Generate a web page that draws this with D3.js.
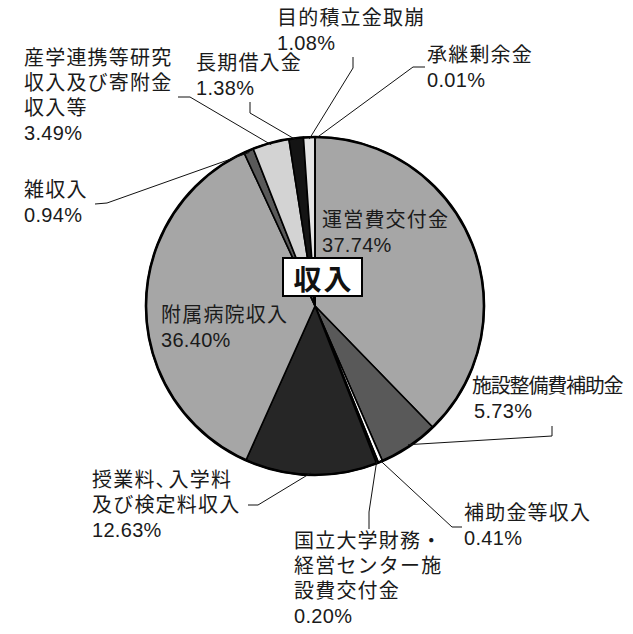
<!DOCTYPE html>
<html>
<head>
<meta charset="utf-8">
<script src="https://cdn.jsdelivr.net/npm/d3@7"></script>
<style>
  html, body { margin: 0; padding: 0; background: #fff; }
  svg { display: block; }
  .lbl { font-family: "Liberation Sans", "Noto Sans CJK JP", sans-serif; font-size: 20px; fill: #1a1a1a; }
</style>
</head>
<body>
<svg id="chart" width="633" height="634"></svg>
<script>
// Revenue breakdown (%), clockwise from 12 o'clock
const categories = [
  "運営費交付金",
  "施設整備費補助金",
  "補助金等収入",
  "国立大学財務・経営センター施設費交付金",
  "授業料、入学料及び検定料収入",
  "附属病院収入",
  "雑収入",
  "産学連携等研究収入及び寄附金収入等",
  "長期借入金",
  "目的積立金取崩",
  "承継剰余金"
];
const shares = [37.74, 5.73, 0.41, 0.20, 12.63, 36.40, 0.94, 3.49, 1.38, 1.08, 0.01];
const labelLines = [
  ["運営費交付金"],
  ["施設整備費補助金"],
  ["補助金等収入"],
  ["国立大学財務・", "経営センター施", "設費交付金"],
  ["授業料、入学料", "及び検定料収入"],
  ["附属病院収入"],
  ["雑収入"],
  ["産学連携等研究", "収入及び寄附金", "収入等"],
  ["長期借入金"],
  ["目的積立金取崩"],
  ["承継剰余金"]
];
const centerTitle = "収入";

// Fill for each slice
const fills = ["#a6a6a6", "#595959", "#ffffff", "#111111", "#262626",
               "#a6a6a6", "#595959", "#d3d3d3", "#141414", "#e4e4e4", "#ffffff"];

// Label layout: first baseline, leader knee and end (none = label sits inside the slice)
const layout = [
  { x: 322, y: 227 },
  { x: 472, y: 393, pctDx: 2, spacing: -1.2, knee: [552, 436], end: [552, 426] },
  { x: 464, y: 520, knee: [452, 527], end: [462, 527] },
  { x: 294, y: 548, knee: [369, 512], end: [369, 529] },
  { x: 92,  y: 487, knee: [258, 505], end: [248, 505] },
  { x: 161, y: 322 },
  { x: 24,  y: 197, knee: [107, 203], end: [95, 204] },
  { x: 24,  y: 65,  knee: [190, 97],  end: [178, 97] },
  { x: 196, y: 70,  knee: [250, 113], end: [250, 102] },
  { x: 277, y: 25,  knee: [353, 68],  end: [353, 57] },
  { x: 427, y: 62,  knee: [413, 67],  end: [425, 67] }
];
const lineH = 25;
// Tighter advance for full-width punctuation
const punctSpacing = { "、": -7, "・": -10 };

const cx = 315, cy = 306, r = 169;
const svg = d3.select("#chart");

const data = shares.map((v, i) => ({ name: categories[i], value: v, i }));
const pie = d3.pie().value(d => d.value).sort(null).startAngle(0).endAngle(2 * Math.PI);
const arcs = pie(data);
const arc = d3.arc().innerRadius(0).outerRadius(r);

const g = svg.append("g").attr("transform", `translate(${cx},${cy})`);
g.selectAll("path.slice")
  .data(arcs)
  .enter().append("path")
  .attr("class", "slice")
  .attr("d", arc)
  .attr("fill", d => fills[d.data.i])
  .attr("stroke", "#000")
  .attr("stroke-width", 1.6)
  .attr("stroke-linejoin", "miter");

g.append("circle")
  .attr("r", r)
  .attr("fill", "none")
  .attr("stroke", "#000")
  .attr("stroke-width", 2.6);

// Leader lines start on the rim at each slice's mid angle
arcs.forEach(d => {
  const L = layout[d.data.i];
  if (!L.knee) return;
  const a = (d.startAngle + d.endAngle) / 2;
  const sx = cx + (r - 2) * Math.sin(a);
  const sy = cy - (r - 2) * Math.cos(a);
  svg.append("polyline")
    .attr("points", [[sx, sy], L.knee, L.end].map(p => p.join(",")).join(" "))
    .attr("fill", "none")
    .attr("stroke", "#111")
    .attr("stroke-width", 1);
});

// Labels: name lines followed by percentage
arcs.forEach(d => {
  const i = d.data.i;
  const L = layout[i];
  const lines = labelLines[i].concat([d.data.value.toFixed(2) + "%"]);
  const t = svg.append("text").attr("class", "lbl");
  lines.forEach((s, k) => {
    const last = k === lines.length - 1;
    const baseSp = last ? 0.3 : (L.spacing != null ? L.spacing : 1.2);
    const line = t.append("tspan")
      .attr("x", L.x + (last && L.pctDx ? L.pctDx : 0))
      .attr("y", L.y + k * lineH);
    // split into runs so punctuation can take a narrower advance
    const runs = [];
    for (const ch of s) {
      const sp = punctSpacing[ch] != null ? punctSpacing[ch] : baseSp;
      if (runs.length && runs[runs.length - 1].sp === sp) runs[runs.length - 1].txt += ch;
      else runs.push({ txt: ch, sp });
    }
    runs.forEach(run => {
      line.append("tspan").style("letter-spacing", run.sp + "px").text(run.txt);
    });
  });
});

// Center title box
const bx = 283, by = 258, bw = 79, bh = 38;
svg.append("rect")
  .attr("x", bx).attr("y", by).attr("width", bw).attr("height", bh)
  .attr("fill", "#fff").attr("stroke", "#000").attr("stroke-width", 2);
svg.append("text")
  .attr("x", bx + bw / 2 + 1).attr("y", by + bh / 2 + 1)
  .attr("text-anchor", "middle")
  .attr("dominant-baseline", "central")
  .style("font-family", "'Noto Sans CJK JP', sans-serif")
  .style("font-weight", "bold")
  .style("font-size", "28px")
  .style("letter-spacing", "2px")
  .attr("fill", "#111")
  .text(centerTitle);
</script>
</body>
</html>
